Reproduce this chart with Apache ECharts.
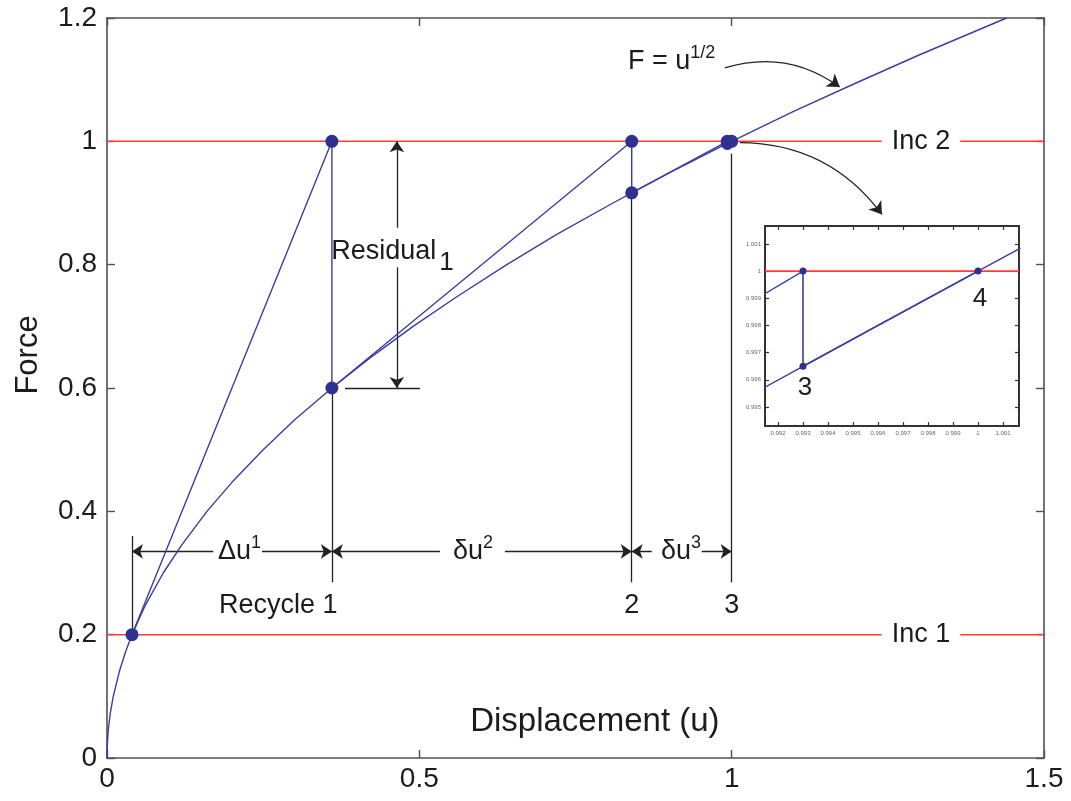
<!DOCTYPE html>
<html>
<head>
<meta charset="utf-8">
<script src="https://cdn.jsdelivr.net/npm/echarts@6/dist/echarts.min.js"></script>
<style>html,body{margin:0;padding:0;background:#fff}#c{width:1071px;height:801px}</style>
</head>
<body>
<div id="c"></div>
<script>
// ---- data ----
const curvePts = [[0,0],[0.0005,0.022],[0.002,0.045],[0.005,0.071],[0.01,0.1],[0.02,0.141],[0.03,0.173],[0.04,0.2],[0.06,0.245],[0.09,0.3],[0.12,0.346],[0.16,0.4],[0.2,0.447],[0.25,0.5],[0.3,0.548],[0.36,0.6],[0.42,0.648],[0.49,0.7],[0.56,0.748],[0.64,0.8],[0.72,0.849],[0.81,0.9],[0.84,0.9165],[0.9,0.949],[0.993,0.9965],[1.0,1.0],[1.1,1.049],[1.2,1.095],[1.3,1.14],[1.44,1.2]];
const iterPath = [[0.04,0.2],[0.36,1.0],[0.36,0.6],[0.84,1.0],[0.84,0.9165],[0.993,1.0],[0.993,0.9965],[1.0,1.0]];
const incLevels = [0.2, 1.0];
const incGap = [1.24, 1.366];
const xTicks = [0, 0.5, 1, 1.5];
const yTicks = [0, 0.2, 0.4, 0.6, 0.8, 1, 1.2];
// black guide lines
const guideLines = [
  [[0.04,0.36],[0.04,0.2]],
  [[0.36,0.6],[0.36,0.285]],
  [[0.84,0.9165],[0.84,0.285]],
  [[1.0,0.98],[1.0,0.285]],
  [[0.381,0.6],[0.501,0.6]]
];
// dimension arrows (start -> arrow tip)
const dimArrows = [
  [[0.17,0.335],[0.04,0.335]],
  [[0.248,0.335],[0.36,0.335]],
  [[0.533,0.335],[0.36,0.335]],
  [[0.637,0.335],[0.84,0.335]],
  [[0.872,0.335],[0.84,0.335]],
  [[0.952,0.335],[1.0,0.335]],
  [[0.464,0.86],[0.464,1.0]],
  [[0.464,0.796],[0.464,0.6]]
];
const curvedArrows = [
  [[0.989,1.119],[1.173,1.088]],
  [[1.013,0.998],[1.2406,0.8815]]
];
const annoText = [
  {pos:[0.904,1.13], text:'{m|F = u}{s|1/2}'},
  {pos:[0.457,0.822], text:'{m|Residual}{b|1}'},
  {pos:[0.212,0.335], text:'{m|Δu}{s|1}'},
  {pos:[0.586,0.335], text:'{m|δu}{s|2}'},
  {pos:[0.919,0.335], text:'{m|δu}{s|3}'},
  {pos:[0.274,0.248], text:'{m|Recycle 1}'},
  {pos:[0.84,0.248], text:'{m|2}'},
  {pos:[1.0,0.248], text:'{m|3}'},
  {pos:[1.303,1.0], text:'{m|Inc 2}'},
  {pos:[1.303,0.2], text:'{m|Inc 1}'},
  {pos:[0.781,0.058], text:'{d|Displacement (u)}'}
];
// inset
const insetXTicks = [0.992,0.993,0.994,0.995,0.996,0.997,0.998,0.999,1,1.001];
const insetYTicks = [0.995,0.996,0.997,0.998,0.999,1,1.001];
const insetCurve = [[0.9914,0.99569],[0.993,0.99649],[0.996,0.998],[1.0,1.0],[1.0017,1.00085]];
const insetTangent = [[0.9914,0.99913],[0.993,1.0]];
const insetPath = [[0.993,1.0],[0.993,0.9965],[1.0,1.0]];
const insetText = [
  {pos:[0.99308,0.9957], text:'3'},
  {pos:[1.00008,0.99897], text:'4'}
];

// ---- styles ----
const FONT = "'Liberation Sans', Arial, Helvetica, sans-serif";
const TXT = '#1c1c1c';
const BLUE = '#3a3ea2';
const DOT = '#2e3192';
const RED = '#ff3b3b';
const FRAME = '#505050';

const mainX = {min:0, max:1.5};
const mainY = {min:0, max:1.2};
const insX = {min:0.99148, max:1.00164};
const insY = {min:0.9943, max:1.00166};

function axisBase(extra){
  return Object.assign({
    type:'value', splitLine:{show:false},
    axisLine:{show:true, onZero:false, lineStyle:{color:FRAME, width:1.6}},
    axisTick:{show:true, inside:true, length:8, lineStyle:{color:FRAME, width:1.4}},
  }, extra);
}

const option = {
  animation:false,
  backgroundColor:'#fff',
  grid:[
    {left:107, top:18, width:937, height:740, containLabel:false},
    {left:765, top:226, width:254, height:200, containLabel:false, show:true, backgroundColor:'#fff', borderWidth:0}
  ],
  xAxis:[
    axisBase({gridIndex:0, position:'bottom', min:mainX.min, max:mainX.max, interval:0.5,
      axisLabel:{show:true, color:TXT, fontSize:28, fontFamily:FONT, margin:7,
        customValues:xTicks}, axisTick:{show:true, inside:true, length:8, lineStyle:{color:FRAME,width:1.4}, customValues:xTicks}}),
    axisBase({gridIndex:0, position:'top', min:mainX.min, max:mainX.max, interval:0.5, axisLabel:{show:false}}),
    axisBase({gridIndex:1, position:'bottom', min:insX.min, max:insX.max,
      axisLine:{show:true,onZero:false,lineStyle:{color:'#333',width:2}},
      axisTick:{show:true, inside:true, length:4, lineStyle:{color:'#333',width:1.2}, customValues:insetXTicks},
      axisLabel:{show:true, color:'#666', fontSize:6, fontFamily:FONT, margin:4, customValues:insetXTicks,
        formatter:v=>String(+v.toFixed(3))}}),
    axisBase({gridIndex:1, position:'top', min:insX.min, max:insX.max,
      axisLine:{show:true,onZero:false,lineStyle:{color:'#333',width:2}},
      axisTick:{show:true, inside:true, length:4, lineStyle:{color:'#333',width:1.2}, customValues:insetXTicks},
      axisLabel:{show:false}})
  ],
  yAxis:[
    axisBase({gridIndex:0, position:'left', min:mainY.min, max:mainY.max, interval:0.2,
      axisLabel:{show:true, color:TXT, fontSize:28, fontFamily:FONT, margin:10,
        customValues:yTicks, formatter:v=>String(+v.toFixed(1))}}),
    axisBase({gridIndex:0, position:'right', min:mainY.min, max:mainY.max, interval:0.2, axisLabel:{show:false}}),
    axisBase({gridIndex:1, position:'left', min:insY.min, max:insY.max,
      axisLine:{show:true,onZero:false,lineStyle:{color:'#333',width:2}},
      axisTick:{show:true, inside:true, length:4, lineStyle:{color:'#333',width:1.2}, customValues:insetYTicks},
      axisLabel:{show:true, color:'#666', fontSize:6, fontFamily:FONT, margin:4, customValues:insetYTicks,
        formatter:v=>String(+v.toFixed(3))}}),
    axisBase({gridIndex:1, position:'right', min:insY.min, max:insY.max,
      axisLine:{show:true,onZero:false,lineStyle:{color:'#333',width:2}},
      axisTick:{show:true, inside:true, length:4, lineStyle:{color:'#333',width:1.2}, customValues:insetYTicks},
      axisLabel:{show:false}})
  ],
  graphic:[
    {type:'text', x:28, y:355, rotation:Math.PI/2, z:100,
      style:{text:'Force', fill:TXT, font:'31px '+FONT, align:'center', verticalAlign:'middle'}}
  ],
  series:[]
};

const S = option.series;
// red increment lines (with gap for label)
incLevels.forEach(lv=>{
  S.push({type:'line', xAxisIndex:0, yAxisIndex:0, symbol:'none', silent:true, z:1,
    lineStyle:{color:RED, width:1.5}, data:[[mainX.min,lv],[incGap[0],lv]]});
  S.push({type:'line', xAxisIndex:0, yAxisIndex:0, symbol:'none', silent:true, z:1,
    lineStyle:{color:RED, width:1.5}, data:[[incGap[1],lv],[mainX.max,lv]]});
});
// curve
S.push({type:'line', xAxisIndex:0, yAxisIndex:0, symbol:'none', z:2, lineStyle:{color:BLUE, width:1.4}, data:curvePts});
// iteration path
S.push({type:'line', xAxisIndex:0, yAxisIndex:0, z:3, lineStyle:{color:BLUE, width:1.4},
  symbol:'circle', symbolSize:13, showAllSymbol:true, itemStyle:{color:DOT}, data:iterPath});
// guide lines
S.push({type:'lines', coordinateSystem:'cartesian2d', xAxisIndex:0, yAxisIndex:0, z:2,
  lineStyle:{color:'#222', width:1.3, opacity:1}, data:guideLines.map(c=>({coords:c}))});
// dimension arrows
S.push({type:'lines', coordinateSystem:'cartesian2d', xAxisIndex:0, yAxisIndex:0, z:2,
  symbol:['none','arrow'], symbolSize:[8,11],
  lineStyle:{color:'#222', width:1.3, opacity:1}, itemStyle:{color:'#222'}, data:dimArrows.map(c=>({coords:c}))});
// curved arrows
S.push({type:'lines', coordinateSystem:'cartesian2d', xAxisIndex:0, yAxisIndex:0, z:2,
  symbol:['none','arrow'], symbolSize:[8,12],
  lineStyle:{color:'#222', width:1.3, opacity:1, curveness:0.25}, data:curvedArrows.map(c=>({coords:c}))});
// annotation text
S.push({type:'scatter', xAxisIndex:0, yAxisIndex:0, z:10, symbolSize:1, itemStyle:{color:'rgba(0,0,0,0)', opacity:1}, silent:true,
  data:annoText.map(a=>({value:a.pos, label:{formatter:a.text}})),
  label:{show:true, position:'inside', color:TXT, fontFamily:FONT, opacity:1,
    rich:{
      m:{fontSize:27, color:TXT, fontFamily:FONT},
      s:{fontSize:18, color:TXT, fontFamily:FONT, verticalAlign:'top', padding:[0,0,16,0]},
      b:{fontSize:26, color:TXT, fontFamily:FONT, padding:[24,0,0,3]},
      d:{fontSize:33, color:TXT, fontFamily:FONT}
    }}});

// inset series
S.push({type:'line', xAxisIndex:2, yAxisIndex:2, symbol:'none', z:5, lineStyle:{color:RED, width:1.8},
  data:[[insX.min,1.0],[insX.max,1.0]]});
S.push({type:'line', xAxisIndex:2, yAxisIndex:2, symbol:'none', z:6, lineStyle:{color:BLUE, width:1.4}, data:insetCurve});
S.push({type:'line', xAxisIndex:2, yAxisIndex:2, symbol:'none', z:6, lineStyle:{color:BLUE, width:1.3}, data:insetTangent});
S.push({type:'line', xAxisIndex:2, yAxisIndex:2, z:7, lineStyle:{color:BLUE, width:1.6},
  symbol:'circle', symbolSize:7, showAllSymbol:true, itemStyle:{color:DOT}, data:insetPath});
S.push({type:'scatter', xAxisIndex:2, yAxisIndex:2, z:10, symbolSize:1, itemStyle:{color:'rgba(0,0,0,0)', opacity:1}, silent:true,
  data:insetText.map(a=>({value:a.pos, label:{formatter:a.text}})),
  label:{show:true, position:'inside', color:TXT, fontSize:26, fontFamily:FONT, opacity:1}});

const chart = echarts.init(document.getElementById('c'), null, {renderer:'canvas'});
chart.setOption(option);
</script>
</body>
</html>
